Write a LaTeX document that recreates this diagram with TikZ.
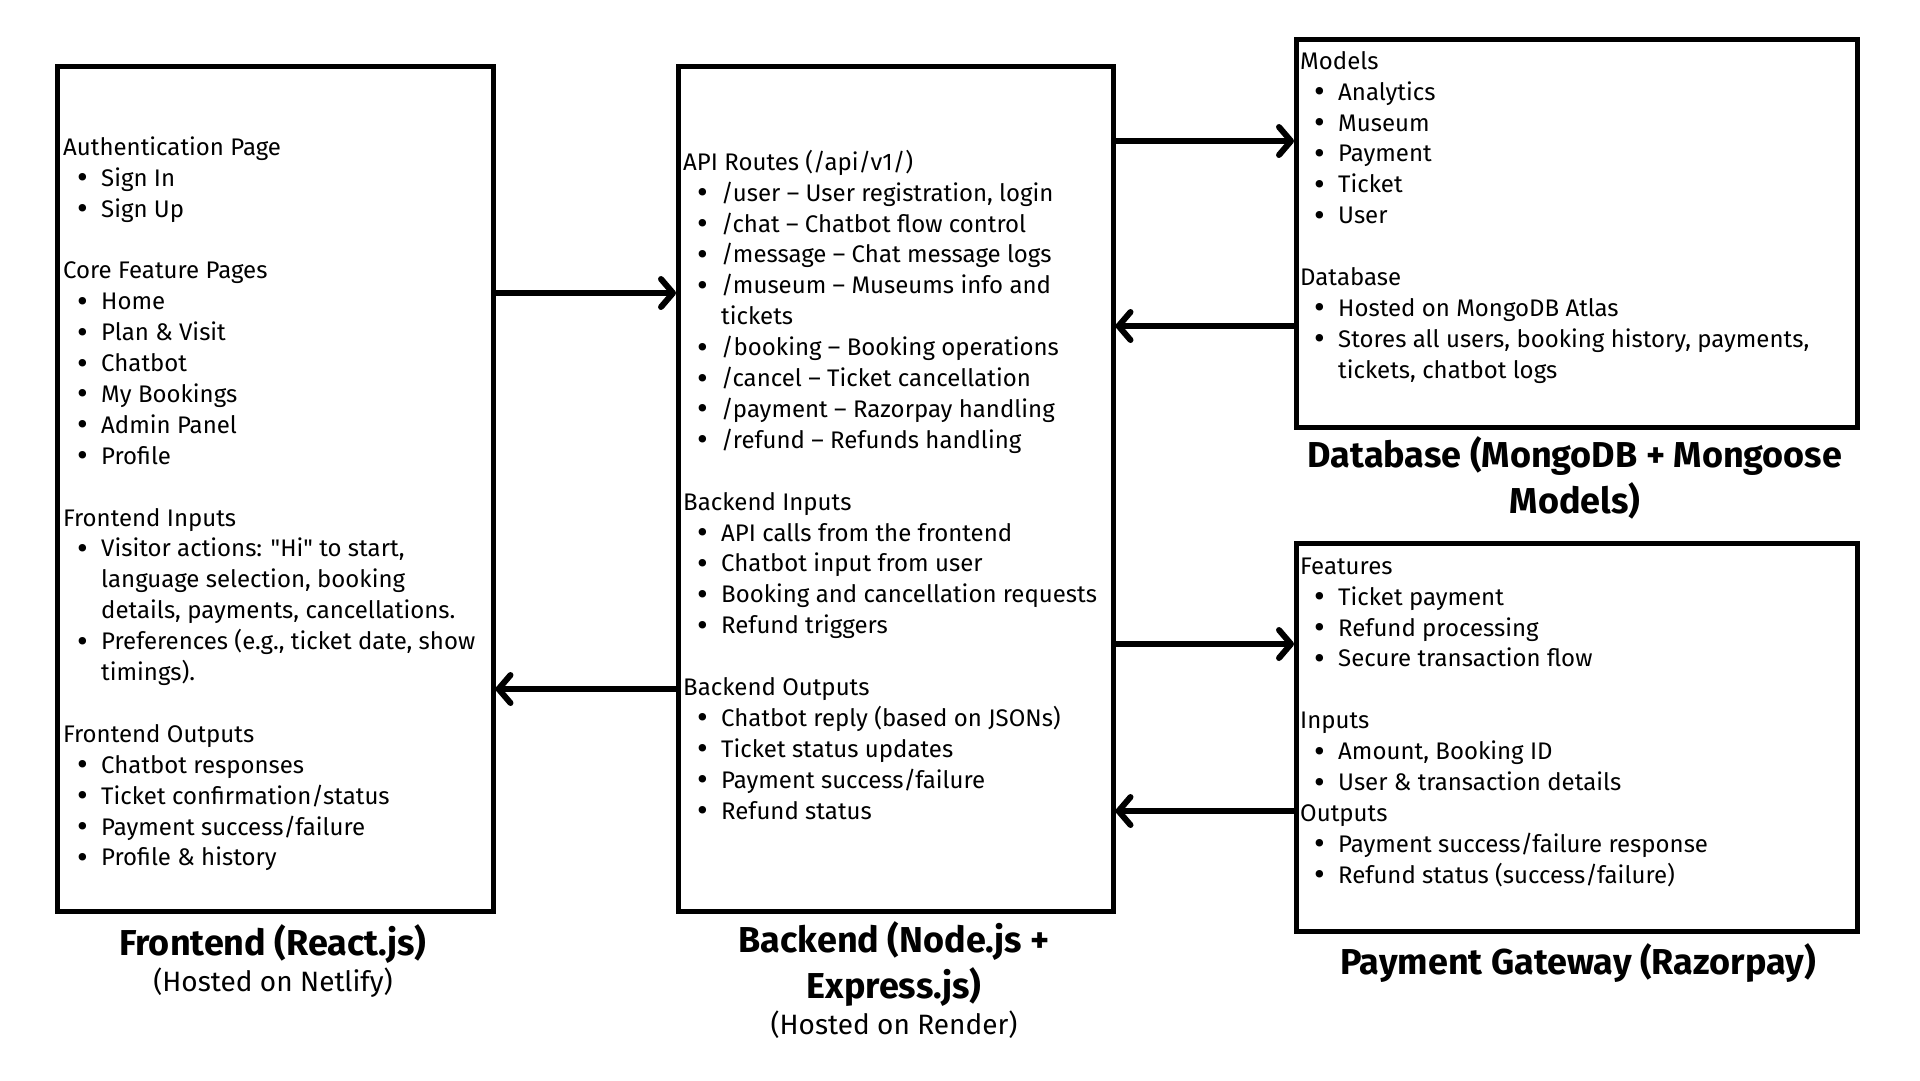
\documentclass[tikz,border=0pt]{standalone}
\usepackage{fontspec}
\setmainfont{Fira Sans}[Ligatures=TeXOff]
\usetikzlibrary{arrows.meta}
\newcommand\bl[1]{\hspace*{14pt}\makebox[24pt][l]{\raisebox{-2.5pt}{\fontsize{33}{0}\selectfont •}}#1}
\newcommand\ct[1]{\hspace*{38pt}#1}
\newcommand\fst{\rule{0pt}{22pt}}
\begin{document}
\begin{tikzpicture}[x=1pt,y=-1pt,
  box/.style={draw=black, line width=4.5pt, inner sep=0pt, anchor=north west},
  body/.style={anchor=north west, inner sep=0pt, align=left, font=\fontsize{24}{30.9}\selectfont},
  ttl/.style={anchor=base, inner sep=0pt, font=\fontsize{36}{40}\selectfont\bfseries},
  sub/.style={anchor=base, inner sep=0pt, font=\fontsize{28}{30}\selectfont},
  arr/.style={line width=6pt, -{Straight Barb[length=12pt, width=28pt, line cap=round, line join=round]}}]
\useasboundingbox[fill=white] (0,0) rectangle (1920,1080);

% boxes
\node[box, minimum width=436pt, minimum height=845pt] (fe) at (55,64) {};
\node[box, minimum width=435pt, minimum height=845pt] (be) at (676,64) {};
\node[box, minimum width=561pt, minimum height=388pt] (db) at (1294,37) {};
\node[box, minimum width=561pt, minimum height=388pt] (pg) at (1294,541) {};

% texts (first baseline = anchor y + 22)
\node[body] (fetxt) at (63,133) {\fst Authentication Page\\
\bl{Sign In}\\
\bl{Sign Up}\\
~\\
Core Feature Pages\\
\bl{Home}\\
\bl{Plan \& Visit}\\
\bl{Chatbot}\\
\bl{My Bookings}\\
\bl{Admin Panel}\\
\bl{Profile}\\
~\\
Frontend Inputs\\
\bl{Visitor actions: "Hi" to start,}\\
\ct{language selection, booking}\\
\ct{details, payments, cancellations.}\\
\bl{Preferences (e.g., ticket date, show}\\
\ct{timings).}\\
~\\
Frontend Outputs\\
\bl{Chatbot responses}\\
\bl{Ticket confirmation/status}\\
\bl{Payment success/failure}\\
\bl{Profile \& history}};

\node[body] (betxt) at (683,148) {\fst API Routes (/api/v1/)\\
\bl{/user – User registration, login}\\
\bl{/chat – Chatbot flow control}\\
\bl{/message – Chat message logs}\\
\bl{/museum – Museums info and}\\
\ct{tickets}\\
\bl{/booking – Booking operations}\\
\bl{/cancel – Ticket cancellation}\\
\bl{/payment – Razorpay handling}\\
\bl{/refund – Refunds handling}\\
~\\
Backend Inputs\\
\bl{API calls from the frontend}\\
\bl{Chatbot input from user}\\
\bl{Booking and cancellation requests}\\
\bl{Refund triggers}\\
~\\
Backend Outputs\\
\bl{Chatbot reply (based on JSONs)}\\
\bl{Ticket status updates}\\
\bl{Payment success/failure}\\
\bl{Refund status}};

\node[body] (dbtxt) at (1300,47) {\fst Models\\
\bl{Analytics}\\
\bl{Museum}\\
\bl{Payment}\\
\bl{Ticket}\\
\bl{User}\\
~\\
Database\\
\bl{Hosted on MongoDB Atlas}\\
\bl{Stores all users, booking history, payments,}\\
\ct{tickets, chatbot logs}};

\node[body] (pgtxt) at (1300,552) {\fst Features\\
\bl{Ticket payment}\\
\bl{Refund processing}\\
\bl{Secure transaction flow}\\
~\\
Inputs\\
\bl{Amount, Booking ID}\\
\bl{User \& transaction details}\\
Outputs\\
\bl{Payment success/failure response}\\
\bl{Refund status (success/failure)}};

% titles
\node[ttl] (fet) at (273,955) {Frontend (React.js)};
\node[sub] (fes) at (273,991) {(Hosted on Netlify)};
\node[ttl] (bet1) at (894,952) {Backend (Node.js +};
\node[ttl] (bet2) at (894,998) {Express.js)};
\node[sub] (bes) at (894,1034) {(Hosted on Render)};
\node[ttl] (dbt1) at (1575,467) {Database (MongoDB + Mongoose};
\node[ttl] (dbt2) at (1575,513) {Models)};
\node[ttl] (pgt) at (1578,974) {Payment Gateway (Razorpay)};

% arrow levels
\coordinate (y1) at (0,293);
\coordinate (y2) at (0,689);
\coordinate (y3) at (0,141);
\coordinate (y4) at (0,326);
\coordinate (y5) at (0,644);
\coordinate (y6) at (0,811);

\draw[arr] (fe.east |- y1) -- (be.west |- y1);
\draw[arr] (be.west |- y2) -- (fe.east |- y2);
\draw[arr] (be.east |- y3) -- (db.west |- y3);
\draw[arr] (db.west |- y4) -- (be.east |- y4);
\draw[arr] (be.east |- y5) -- (pg.west |- y5);
\draw[arr] (pg.west |- y6) -- (be.east |- y6);
\end{tikzpicture}
\end{document}
